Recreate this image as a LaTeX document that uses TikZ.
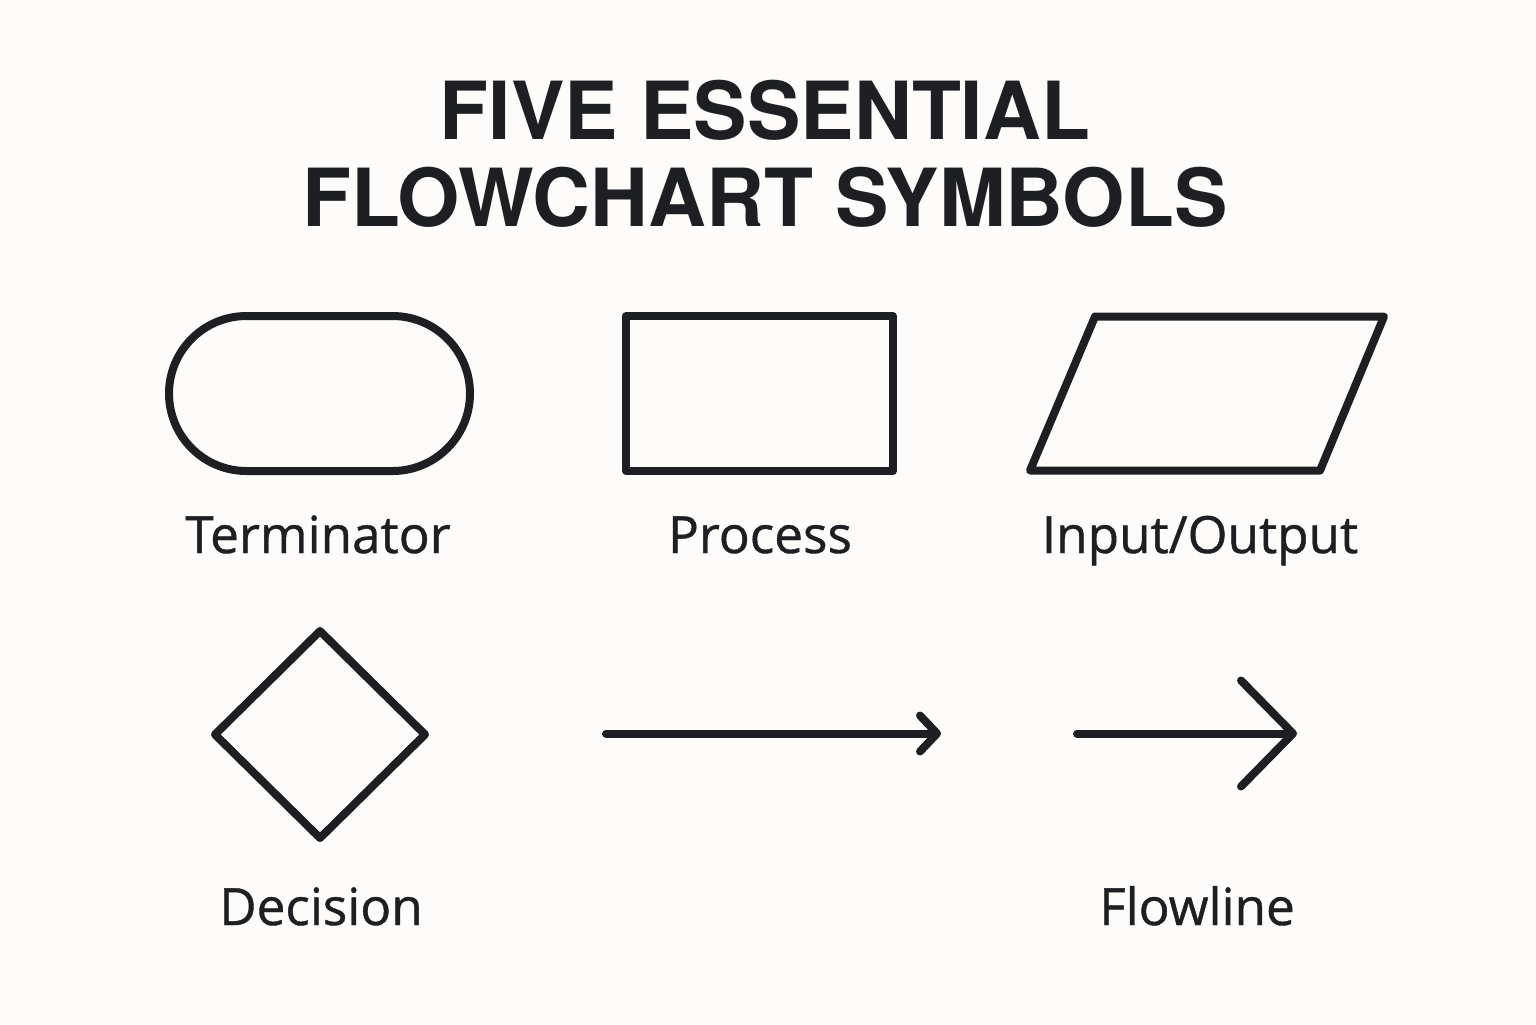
\documentclass[tikz,border=0pt]{standalone}
\usepackage{fontspec}
\setmainfont{TeX Gyre Heros}
\newfontfamily\labelfont{Open Sans}[FakeBold=0.8]
\usepackage{tikz}
\usetikzlibrary{shapes.geometric,shapes.misc,arrows.meta}
\definecolor{InkDark}{HTML}{1E1F22}
\definecolor{PaperWhite}{HTML}{FDFCFA}

\begin{document}
\begin{tikzpicture}[
    sym/.style={draw=InkDark, line width=0.08cm, line join=round, inner sep=0pt, outer sep=0pt},
    lbl/.style={text=InkDark, font=\labelfont\fontsize{14.6}{17}\selectfont, anchor=base, inner sep=0pt},
    flow/.style={draw=InkDark, line width=0.08cm, line cap=round}
  ]
  \fill[PaperWhite] (0,0) rectangle (15.36,-10.24);
  \node[text=InkDark, font=\bfseries\fontsize{22.8}{24.75}\selectfont, align=center, anchor=north, inner sep=0pt] (title) at (7.65,-0.79) {FIVE ESSENTIAL\\FLOWCHART SYMBOLS};

  % first row
  \node[sym, rounded rectangle, minimum width=3.01cm, minimum height=1.55cm] (term) at (3.195,-3.935) {};
  \node[sym, rectangle, minimum width=2.67cm, minimum height=1.55cm] (proc) at (7.595,-3.935) {};
  \coordinate (io-bl) at (10.30,-4.705);
  \coordinate (io-br) at (13.20,-4.705);
  \coordinate (io-tr) at (13.84,-3.165);
  \coordinate (io-tl) at (10.95,-3.165);
  \draw[sym] (io-bl) -- (io-br) -- (io-tr) -- (io-tl) -- cycle;
  \node[lbl] (termlbl) at (3.18,-5.53) {Terminator};
  \node[lbl] (proclbl) at (7.60,-5.53) {Process};
  \node[lbl] (iolbl) at (12.00,-5.53) {Input/Output};

  % second row
  \node[sym, diamond, minimum width=2.10cm, minimum height=2.07cm] (dec) at (3.20,-7.345) {};
  \coordinate (f1s) at (6.06,-7.335);
  \coordinate (f1e) at (9.41,-7.335);
  \coordinate (f2s) at (10.77,-7.335);
  \coordinate (f2e) at (12.97,-7.335);
  \draw[flow, -{Straight Barb[length=0.17cm, width=0.36cm, round]}] (f1s) -- (f1e);
  \draw[flow, -{Straight Barb[length=0.52cm, width=1.06cm, round]}] (f2s) -- (f2e);
  \node[lbl] (declbl) at (3.21,-9.25) {Decision};
  \node[lbl] (flowlbl) at (11.97,-9.25) {Flowline};
\end{tikzpicture}
\end{document}
